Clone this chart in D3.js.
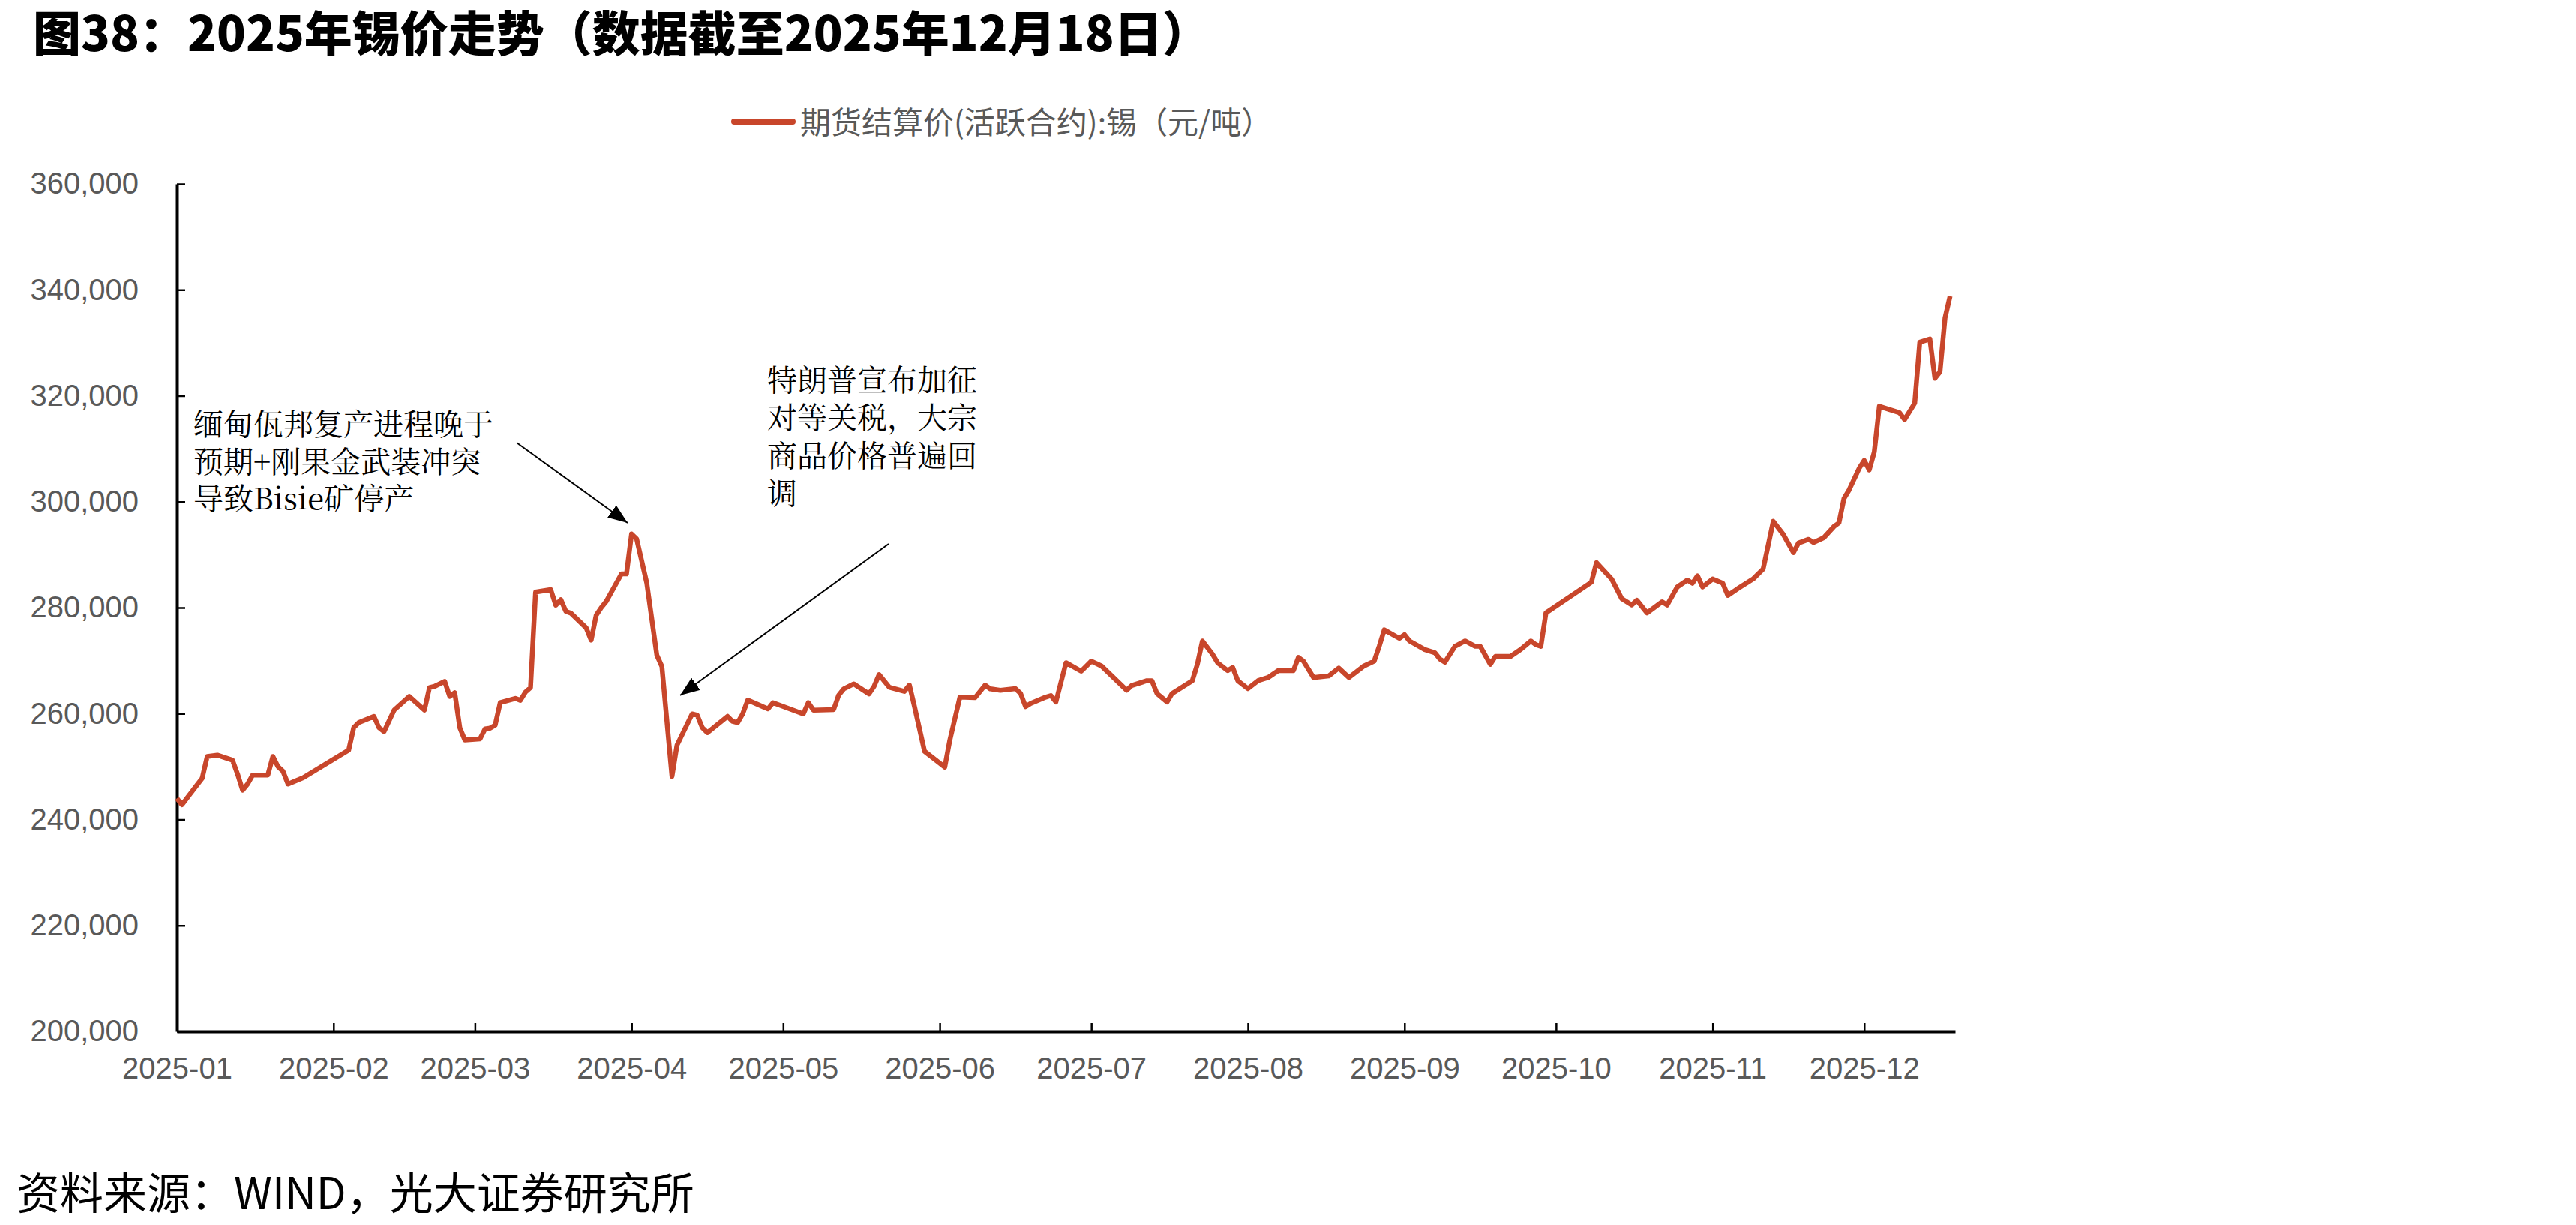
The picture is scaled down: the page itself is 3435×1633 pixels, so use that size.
<!DOCTYPE html>
<html>
<head>
<meta charset="utf-8">
<script src="https://cdn.jsdelivr.net/npm/d3@7"></script>
<style>
  body { margin: 0; background: #fff; }
  svg { display: block; }
</style>
</head>
<body>
<svg id="chart" width="3435" height="1633"></svg>
<script>
const width = 3435, height = 1633;

const title = "图38：2025年锡价走势（数据截至2025年12月18日）";
const seriesName = "期货结算价(活跃合约):锡（元/吨）";
const source = "资料来源：WIND，光大证券研究所";

const monthLabels = ["2025-01", "2025-02", "2025-03", "2025-04", "2025-05", "2025-06",
  "2025-07", "2025-08", "2025-09", "2025-10", "2025-11", "2025-12"];
const yTicks = [200000, 220000, 240000, 260000, 280000, 300000, 320000, 340000, 360000];

const dates = [
  "2025-01-02", "2025-01-03", "2025-01-07", "2025-01-08", "2025-01-10", "2025-01-13", "2025-01-14", "2025-01-15",
  "2025-01-16", "2025-01-17", "2025-01-20", "2025-01-21", "2025-01-22", "2025-01-23", "2025-01-24", "2025-01-27",
  "2025-02-05", "2025-02-06", "2025-02-07", "2025-02-10", "2025-02-11", "2025-02-12", "2025-02-14", "2025-02-17",
  "2025-02-20", "2025-02-21", "2025-02-22", "2025-02-24", "2025-02-25", "2025-02-26", "2025-02-27", "2025-02-28",
  "2025-03-03", "2025-03-04", "2025-03-05", "2025-03-06", "2025-03-07", "2025-03-10", "2025-03-11", "2025-03-12",
  "2025-03-13", "2025-03-14", "2025-03-17", "2025-03-18", "2025-03-19", "2025-03-20", "2025-03-21", "2025-03-24",
  "2025-03-25", "2025-03-26", "2025-03-27", "2025-03-28", "2025-03-31", "2025-04-01", "2025-04-02", "2025-04-03",
  "2025-04-05", "2025-04-07", "2025-04-08", "2025-04-10", "2025-04-11", "2025-04-14", "2025-04-15", "2025-04-16",
  "2025-04-17", "2025-04-21", "2025-04-22", "2025-04-23", "2025-04-24", "2025-04-25", "2025-04-29", "2025-04-30",
  "2025-05-06", "2025-05-07", "2025-05-08", "2025-05-12", "2025-05-13", "2025-05-14", "2025-05-16", "2025-05-19",
  "2025-05-20", "2025-05-21", "2025-05-23", "2025-05-26", "2025-05-27", "2025-05-28", "2025-05-30", "2025-06-03",
  "2025-06-04", "2025-06-06", "2025-06-09", "2025-06-11", "2025-06-12", "2025-06-14", "2025-06-17", "2025-06-18",
  "2025-06-19", "2025-06-20", "2025-06-23", "2025-06-24", "2025-06-25", "2025-06-27", "2025-06-30", "2025-07-02",
  "2025-07-04", "2025-07-09", "2025-07-10", "2025-07-13", "2025-07-14", "2025-07-15", "2025-07-17", "2025-07-18",
  "2025-07-20", "2025-07-22", "2025-07-23", "2025-07-24", "2025-07-26", "2025-07-27", "2025-07-29", "2025-07-30",
  "2025-07-31", "2025-08-02", "2025-08-04", "2025-08-06", "2025-08-08", "2025-08-11", "2025-08-12", "2025-08-13",
  "2025-08-15", "2025-08-18", "2025-08-20", "2025-08-22", "2025-08-25", "2025-08-27", "2025-08-28", "2025-08-29",
  "2025-09-01", "2025-09-02", "2025-09-03", "2025-09-06", "2025-09-08", "2025-09-09", "2025-09-10", "2025-09-12",
  "2025-09-14", "2025-09-16", "2025-09-17", "2025-09-19", "2025-09-20", "2025-09-23", "2025-09-25", "2025-09-27",
  "2025-09-28", "2025-09-29", "2025-09-30", "2025-10-09", "2025-10-10", "2025-10-13", "2025-10-15", "2025-10-17",
  "2025-10-18", "2025-10-20", "2025-10-23", "2025-10-24", "2025-10-26", "2025-10-28", "2025-10-29", "2025-10-30",
  "2025-10-31", "2025-11-02", "2025-11-04", "2025-11-05", "2025-11-07", "2025-11-10", "2025-11-12", "2025-11-14",
  "2025-11-16", "2025-11-18", "2025-11-19", "2025-11-21", "2025-11-22", "2025-11-24", "2025-11-26", "2025-11-27",
  "2025-11-28", "2025-11-29", "2025-12-01", "2025-12-02", "2025-12-03", "2025-12-04", "2025-12-05", "2025-12-07",
  "2025-12-09", "2025-12-10", "2025-12-12", "2025-12-13", "2025-12-15", "2025-12-16", "2025-12-17", "2025-12-18",
  "2025-12-19"
];

const prices = [
  244000, 242800, 247800, 251900, 252150, 251200, 248600, 245550,
  246700, 248400, 248400, 251900, 250000, 249100, 246700, 247900,
  253100, 257350, 258300, 259470, 257350, 256600, 260650, 263250,
  260650, 264900, 265130, 266075, 263250, 263950, 257350, 255000,
  255220, 257100, 257250, 257800, 262060, 262860, 262500, 264050,
  264900, 282930, 283400, 280470, 281500, 279300, 278960, 276200,
  273860, 278570, 280000, 281180, 286370, 286370, 293900, 292980,
  284720, 271030, 268910, 248140, 254040, 259940, 259700, 257350,
  256400, 259470, 258520, 258290, 259940, 262540, 260880, 262060,
  259940, 262060, 260650, 260740, 263480, 264660, 265600, 263720,
  265130, 267350, 264990, 264190, 265370, 261350, 252860, 249890,
  254980, 263100, 263010, 265370, 264660, 264400, 264700, 263800,
  261300, 261900, 263100, 263400, 262200, 269600, 268000, 269900,
  269000, 264400, 265300, 266200, 266200, 263800, 262200, 263800,
  265000, 266200, 269300, 273700, 271200, 269600, 268100, 268700,
  266200, 264700, 266200, 266800, 268100, 268100, 270600, 269900,
  266800, 267100, 268600, 266800, 269000, 269900, 272700, 275800,
  274200, 274900, 273700, 272100, 271500, 270300, 269700, 272700,
  273700, 272700, 272700, 269300, 270800, 270800, 272100, 273700,
  273000, 272700, 279000, 284800, 288500, 285400, 281700, 280500,
  281400, 279000, 281100, 280500, 283900, 285200, 284600, 286000,
  283900, 285400, 284600, 282300, 283600, 285400, 287300, 296300,
  293800, 290400, 292200, 292900, 292300, 293200, 295300, 296000,
  300600, 302200, 306300, 307800, 306000, 309400, 318000, 317400,
  316800, 315500, 318600, 330100, 330700, 323300, 324500, 334700,
  338800
];

const note1 = ["缅甸佤邦复产进程晚于", "预期+刚果金武装冲突", "导致Bisie矿停产"];
const note2 = ["特朗普宣布加征", "对等关税，大宗", "商品价格普遍回", "调"];

const parse = d3.timeParse("%Y-%m-%d");
const data = dates.map((d, i) => ({ date: parse(d), value: prices[i] }));

const margin = { left: 236, right: 2607, top: 245, bottom: 1375 };
const lineColor = "#c8462b";

const x = d3.scaleTime()
  .domain([parse("2025-01-02"), parse("2025-12-20")])
  .range([margin.left, margin.right]);

const y = d3.scaleLinear()
  .domain([200000, 360000])
  .range([margin.bottom, margin.top]);

const svg = d3.select("#chart");

svg.append("rect").attr("width", width).attr("height", height).attr("fill", "#fff");

svg.append("defs").append("marker")
    .attr("id", "arrow")
    .attr("viewBox", "0 0 26 20")
    .attr("refX", 26)
    .attr("refY", 10)
    .attr("markerWidth", 26)
    .attr("markerHeight", 20)
    .attr("markerUnits", "userSpaceOnUse")
    .attr("orient", "auto")
  .append("path")
    .attr("d", "M0,0L26,10L0,20Z")
    .attr("fill", "#000");

// title
svg.append("text")
    .attr("x", 44)
    .attr("y", 68)
    .attr("font-family", "'Noto Sans CJK SC', sans-serif")
    .attr("font-weight", 900)
    .attr("font-size", 64)
    .attr("fill", "#000")
    .text(title);

// legend
svg.append("line")
    .attr("x1", 979).attr("x2", 1057)
    .attr("y1", 162).attr("y2", 162)
    .attr("stroke", lineColor)
    .attr("stroke-width", 8)
    .attr("stroke-linecap", "round");

svg.append("text")
    .attr("x", 1067)
    .attr("y", 178)
    .attr("font-family", "'Noto Sans CJK SC', sans-serif")
    .attr("font-size", 41)
    .attr("fill", "#595959")
    .text(seriesName);

// axes
const xAxis = d3.axisBottom(x)
  .tickValues(monthLabels.map(m => d3.timeDay.offset(parse(m + "-01"), 1)))
  .tickFormat(d3.timeFormat("%Y-%m"))
  .tickSize(-11)
  .tickSizeOuter(0)
  .tickPadding(35);

const yAxis = d3.axisLeft(y)
  .tickValues(yTicks)
  .tickFormat(d3.format(","))
  .tickSize(-11)
  .tickSizeOuter(0)
  .tickPadding(51);

const gx = svg.append("g")
    .attr("transform", `translate(0,${margin.bottom})`)
    .call(xAxis);

const gy = svg.append("g")
    .attr("transform", `translate(${margin.left},0)`)
    .call(yAxis);

[gx, gy].forEach(g => {
  g.select(".domain").attr("stroke", "#000").attr("stroke-width", 4);
  g.selectAll(".tick line").attr("stroke", "#000").attr("stroke-width", 2.5);
  g.selectAll(".tick text")
    .attr("font-family", "'Liberation Sans', Arial, sans-serif")
    .attr("font-size", 40)
    .attr("fill", "#595959");
});
gx.selectAll(".tick").filter((d, i) => i === 0).select("line").remove();

// series
const line = d3.line()
  .x(d => x(d.date))
  .y(d => y(d.value));

svg.append("path")
    .datum(data)
    .attr("fill", "none")
    .attr("stroke", lineColor)
    .attr("stroke-width", 6.5)
    .attr("stroke-linejoin", "round")
    .attr("d", line);

// annotations
const notes = svg.append("g")
    .attr("font-family", "'Noto Serif CJK SC', 'Noto Sans CJK SC', serif")
    .attr("font-size", 40)
    .attr("fill", "#000");

notes.selectAll("text.n1")
  .data(note1)
  .join("text")
    .attr("class", "n1")
    .attr("x", 258)
    .attr("y", (d, i) => 580 + i * 49.5)
    .text(d => d);

notes.selectAll("text.n2")
  .data(note2)
  .join("text")
    .attr("class", "n2")
    .attr("x", 1023)
    .attr("y", (d, i) => 521 + i * 50.3)
    .text(d => d);

svg.append("line")
    .attr("x1", 689).attr("y1", 590)
    .attr("x2", 837).attr("y2", 697)
    .attr("stroke", "#000")
    .attr("stroke-width", 2)
    .attr("marker-end", "url(#arrow)");

svg.append("line")
    .attr("x1", 1185).attr("y1", 725)
    .attr("x2", 907).attr("y2", 927)
    .attr("stroke", "#000")
    .attr("stroke-width", 2)
    .attr("marker-end", "url(#arrow)");

// source
svg.append("text")
    .attr("x", 22)
    .attr("y", 1612)
    .attr("font-family", "'Noto Sans CJK SC', sans-serif")
    .attr("font-size", 58)
    .attr("fill", "#000")
    .text(source);
</script>
</body>
</html>
